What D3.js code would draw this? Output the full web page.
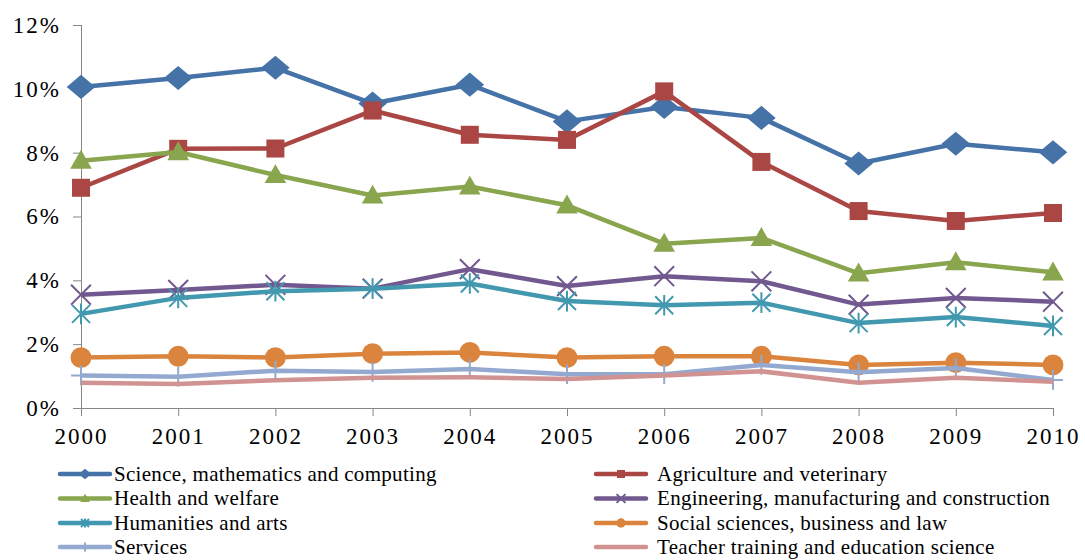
<!DOCTYPE html>
<html>
<head>
<meta charset="utf-8">
<script src="https://cdn.jsdelivr.net/npm/d3@7"></script>
<style>
  body { margin: 0; background: #fff; }
  svg text { font-family: "Liberation Serif", "DejaVu Serif", serif; fill: #000; }
</style>
</head>
<body>
<svg id="chart" width="1085" height="560"></svg>
<script>
// years on the x axis
const years = [2000, 2001, 2002, 2003, 2004, 2005, 2006, 2007, 2008, 2009, 2010];
const yTicks = [0, 2, 4, 6, 8, 10, 12];

// share of graduates per field (%)
const science     = [10.06, 10.34, 10.66, 9.54, 10.13, 8.98, 9.43, 9.09, 7.66, 8.28, 8.01];
const agriculture = [6.90, 8.12, 8.13, 9.32, 8.56, 8.40, 9.92, 7.71, 6.17, 5.86, 6.11];
const health      = [7.75, 8.02, 7.30, 6.66, 6.94, 6.35, 5.15, 5.33, 4.22, 4.57, 4.25];
const engineering = [3.55, 3.70, 3.86, 3.74, 4.35, 3.82, 4.13, 3.97, 3.24, 3.45, 3.33];
const humanities  = [2.95, 3.45, 3.66, 3.74, 3.90, 3.35, 3.22, 3.30, 2.66, 2.85, 2.57];
const social      = [1.58, 1.62, 1.58, 1.70, 1.74, 1.58, 1.62, 1.62, 1.35, 1.42, 1.35];
const services    = [1.02, 0.98, 1.17, 1.13, 1.22, 1.06, 1.06, 1.35, 1.12, 1.25, 0.88];
const teacher     = [0.79, 0.75, 0.87, 0.95, 0.96, 0.91, 1.02, 1.15, 0.79, 0.95, 0.82];

const seriesNames = [
  "Science, mathematics and computing", "Agriculture and veterinary",
  "Health and welfare", "Engineering, manufacturing and construction",
  "Humanities and arts", "Social sciences, business and law",
  "Services", "Teacher training and education science"
];
const seriesValues = [science, agriculture, health, engineering, humanities, social, services, teacher];
const colors = ["#4572A7", "#AA4643", "#89A54E", "#71588F", "#4198AF", "#DB843D", "#93A9CF", "#D19392"];
const markers = ["diamond", "square", "triangle", "x", "star", "circle", "plus", "none"];

const svg = d3.select("#chart");
const plotLeft = 81, plotRight = 1053, plotTop = 25, plotBottom = 408;

const x = d3.scalePoint().domain(years).range([plotLeft, plotRight]);
const y = d3.scaleLinear().domain([0, 12]).range([plotBottom, plotTop]);

// axes
const axisColor = "#868686";
const yAxis = svg.append("g").attr("transform", `translate(${plotLeft},0)`)
  .call(d3.axisLeft(y).tickValues(yTicks).tickSize(8).tickPadding(12).tickFormat(d => d + "%"));
const xAxis = svg.append("g").attr("transform", `translate(0,${plotBottom})`)
  .call(d3.axisBottom(x).tickSize(8).tickPadding(12));
[xAxis, yAxis].forEach(g => {
  g.select(".domain").attr("stroke", axisColor).attr("stroke-width", 1);
  g.selectAll(".tick line").attr("stroke", axisColor);
  g.selectAll(".tick text").style("font-size", "23px").style("letter-spacing", "2px")
    .attr("font-family", null);
});
// full-length domain lines without outer ticks
xAxis.select(".domain").attr("d", `M${plotLeft},0.5H${plotRight}`);
yAxis.select(".domain").attr("d", `M0.5,${plotTop}V${plotBottom}`);

// draws one marker shape centred at 0,0
function drawMarker(g, type, color, s) {
  if (type === "diamond") {
    g.append("path").attr("d", d3.symbol(d3.symbolDiamond2, s * s * 0.95)()).attr("fill", color)
      .attr("transform", "scale(1.3,1.1)");
  } else if (type === "square") {
    g.append("rect").attr("x", -s / 2).attr("y", -s / 2).attr("width", s).attr("height", s).attr("fill", color);
  } else if (type === "triangle") {
    g.append("path").attr("d", `M0,${-s * 0.6}L${s * 0.6},${s * 0.45}L${-s * 0.6},${s * 0.45}Z`).attr("fill", color);
  } else if (type === "circle") {
    g.append("circle").attr("r", s * 0.58).attr("fill", color);
  } else if (type === "x") {
    const h = s * 0.55;
    g.append("path").attr("d", `M${-h},${-h}L${h},${h}M${-h},${h}L${h},${-h}`)
      .attr("stroke", color).attr("stroke-width", 2);
  } else if (type === "star") {
    const h = s * 0.5;
    g.append("path").attr("d", `M${-h},${-h}L${h},${h}M${-h},${h}L${h},${-h}M0,${-h * 1.15}V${h * 1.15}`)
      .attr("stroke", color).attr("stroke-width", 2);
  } else if (type === "plus") {
    const h = s * 0.55;
    g.append("path").attr("d", `M0,${-h}V${h}M${-h},0H${h}`)
      .attr("stroke", color).attr("stroke-width", 2);
  }
}

const line = d3.line().x((d, i) => x(years[i])).y(d => y(d));

seriesValues.forEach((vals, k) => {
  const g = svg.append("g");
  g.append("path").datum(vals).attr("d", line)
    .attr("fill", "none").attr("stroke", colors[k]).attr("stroke-width", 4.5)
    .attr("stroke-linejoin", "round");
  vals.forEach((v, i) => {
    const m = g.append("g").attr("transform", `translate(${x(years[i])},${y(v)})`);
    drawMarker(m, markers[k], colors[k], 18);
  });
});

// legend, two columns
const legCols = [60, 596];
const legTextOff = [54, 61];
const legRows = [474, 498.5, 523, 547];
seriesNames.forEach((name, k) => {
  const col = k % 2, row = Math.floor(k / 2);
  const lx = legCols[col], ly = legRows[row];
  const g = svg.append("g");
  g.append("line").attr("x1", lx).attr("x2", lx + 50).attr("y1", ly).attr("y2", ly)
    .attr("stroke", colors[k]).attr("stroke-width", 4.5).attr("stroke-linecap", "round");
  const m = g.append("g").attr("transform", `translate(${lx + 25},${ly})`);
  drawMarker(m, markers[k], colors[k], 8);
  g.append("text").attr("x", lx + legTextOff[col]).attr("y", ly).attr("dy", "0.33em")
    .style("font-size", "21px").style("letter-spacing", "0.3px").text(name);
});
</script>
</body>
</html>
